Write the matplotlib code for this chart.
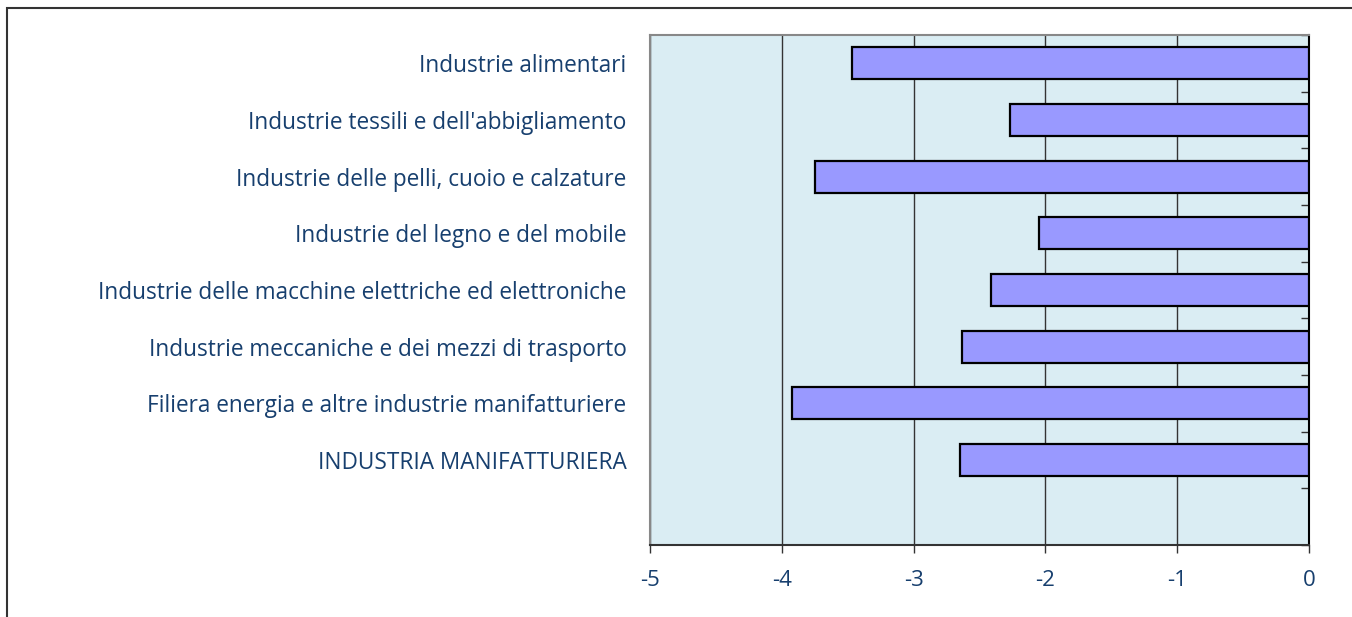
import matplotlib.pyplot as plt
from matplotlib.patches import Rectangle

categories = [
    "Industrie alimentari",
    "Industrie tessili e dell'abbigliamento",
    "Industrie delle pelli, cuoio e calzature",
    "Industrie del legno e del mobile",
    "Industrie delle macchine elettriche ed elettroniche",
    "Industrie meccaniche e dei mezzi di trasporto",
    "Filiera energia e altre industrie manifatturiere",
    "INDUSTRIA MANIFATTURIERA",
]
values = [-3.47, -2.27, -3.75, -2.05, -2.41, -2.63, -3.92, -2.65]
x_ticks = [-5, -4, -3, -2, -1, 0]

text_col = '#173f6e'
plt.rcParams['font.family'] = ['Open Sans', 'DejaVu Sans']

fig = plt.figure(figsize=(13.52, 6.17), dpi=100)
ax = fig.add_axes([650 / 1352, 1 - 545 / 617, (1309 - 650) / 1352, 510 / 617])
ax.set_facecolor('#daedf3')

ypos = list(range(len(categories)))
ax.barh(ypos, values, height=0.56, color='#9999ff', edgecolor='black',
        linewidth=1.6, zorder=3)

ax.set_xlim(-5, 0)
ax.set_ylim(8.5, -0.5)
ax.set_xticks(x_ticks)
ax.set_xticklabels([str(t) for t in x_ticks], color=text_col, fontsize=16)
ax.set_yticks(ypos)
ax.set_yticklabels(categories, color=text_col, fontsize=16.3)
ax.set_yticks([i + 0.5 for i in range(-1, 9)], minor=True)

ax.tick_params(axis='y', which='major', length=0, pad=17)
ax.tick_params(axis='y', which='minor', left=False, right=True,
               direction='in', length=6, width=1, color='#333333')
ax.tick_params(axis='x', which='major', direction='out', length=6,
               width=1, color='#333333', pad=12)

ax.grid(axis='x', color='#333333', linewidth=1, zorder=1)
ax.set_axisbelow(True)

for side in ['left', 'top']:
    ax.spines[side].set_color('#888888')
    ax.spines[side].set_linewidth(1.5)
ax.spines['bottom'].set_color('#333333')
ax.spines['bottom'].set_linewidth(1.5)
ax.spines['right'].set_color('black')
ax.spines['right'].set_linewidth(1.5)

# outer chart border (only top and left visible in the crop)
fig.patches.append(Rectangle((7 / 1352, -0.1), 1.2, 1 - 8 / 617 + 0.1,
                             transform=fig.transFigure, fill=False,
                             edgecolor='#333333', linewidth=1.5))

fig.savefig('out.png', dpi=100)
